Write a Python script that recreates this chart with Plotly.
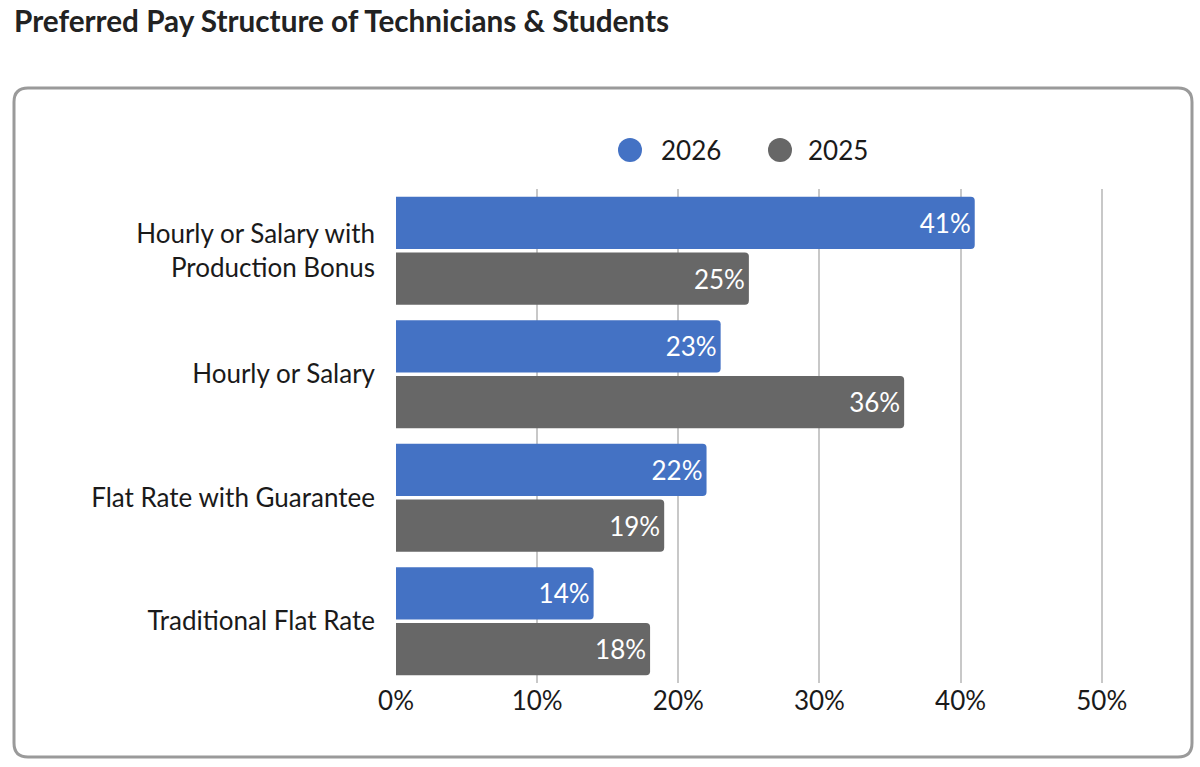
import plotly.graph_objects as go

categories = ["Hourly or Salary with<br>Production Bonus", "Hourly or Salary",
              "Flat Rate with Guarantee", "Traditional Flat Rate"]
series_names = ["2026", "2025"]
values_2026 = [41, 23, 22, 14]
values_2025 = [25, 36, 19, 18]
x_ticks = [0, 10, 20, 30, 40, 50]
x_tick_labels = [f"{t}%" for t in x_ticks]

colors = {"2026": "#4472C4", "2025": "#676767"}
FONT = "Lato, 'Open Sans', sans-serif"
TXT = "#1a1a1a"

fig = go.Figure()
for name, vals in zip(series_names, [values_2026, values_2025]):
    fig.add_trace(go.Bar(
        y=categories, x=vals, orientation="h", name=name,
        marker=dict(color=colors[name], cornerradius=4, line=dict(width=0)),
        text=[f"{v}%" for v in vals], textposition="inside", insidetextanchor="end",
        textfont=dict(color="white", size=26, family=FONT),
        showlegend=False, hoverinfo="skip",
    ))

# plot area: x 396..1106, y 189..683
L, R, T, B = 396, 94, 189, 84
W, H = 1200, 767
pw, ph = W - L - R, H - T - B

def px(x):
    return (x - L) / pw

def py(y):
    return (H - B - y) / ph

x0, x1, y0, y1 = px(14), px(1192), py(757), py(88)
rx, ry = 14 / pw, 14 / ph
path = (f"M {x0+rx} {y1} L {x1-rx} {y1} Q {x1} {y1} {x1} {y1-ry} "
        f"L {x1} {y0+ry} Q {x1} {y0} {x1-rx} {y0} "
        f"L {x0+rx} {y0} Q {x0} {y0} {x0} {y0+ry} "
        f"L {x0} {y1-ry} Q {x0} {y1} {x0+rx} {y1} Z")

shapes = [dict(type="path", xref="paper", yref="paper", path=path,
               line=dict(color="#9a9a9a", width=3), fillcolor="rgba(0,0,0,0)",
               layer="below")]
annotations = []
# manual legend (circle swatches + labels)
legend_pos = {"2026": (630, 659), "2025": (780, 806)}
for name in series_names:
    cx, tx = legend_pos[name]
    shapes.append(dict(type="circle", xref="paper", yref="paper",
                       x0=px(cx - 12), x1=px(cx + 12), y0=py(162), y1=py(138),
                       fillcolor=colors[name], line=dict(width=0)))
    annotations.append(dict(text=name, xref="paper", yref="paper", x=px(tx), y=py(150),
                            xanchor="left", yanchor="middle", showarrow=False,
                            font=dict(size=26, color=TXT, family=FONT)))

fig.update_layout(
    width=W, height=H,
    margin=dict(l=L, r=R, t=T, b=B),
    paper_bgcolor="white", plot_bgcolor="white",
    font=dict(family=FONT, size=26, color=TXT),
    barmode="group", bargap=0.1, bargroupgap=0.06,
    uniformtext=dict(minsize=26, mode="show"),
    showlegend=False,
    title=dict(text="<b>Preferred Pay Structure of Technicians &amp; Students</b>",
               x=14 / W, xanchor="left", xref="container", y=1 - 22 / H, yanchor="middle",
               yref="container", font=dict(family=FONT, size=29.7, color="#222222")),
    xaxis=dict(range=[0, 50.3], tickvals=x_ticks, ticktext=x_tick_labels, showgrid=True,
               gridcolor="#c8c8c8", gridwidth=1.5, zeroline=False, showline=False,
               tickfont=dict(size=26, color=TXT), fixedrange=True),
    yaxis=dict(autorange="reversed", showgrid=False, zeroline=False, showline=False,
               tickfont=dict(size=26, color=TXT), ticklabelstandoff=20),
    shapes=shapes,
    annotations=annotations,
)

fig.write_html("out.html", config={"displayModeBar": False},
               post_script="document.body.style.margin='0';")
